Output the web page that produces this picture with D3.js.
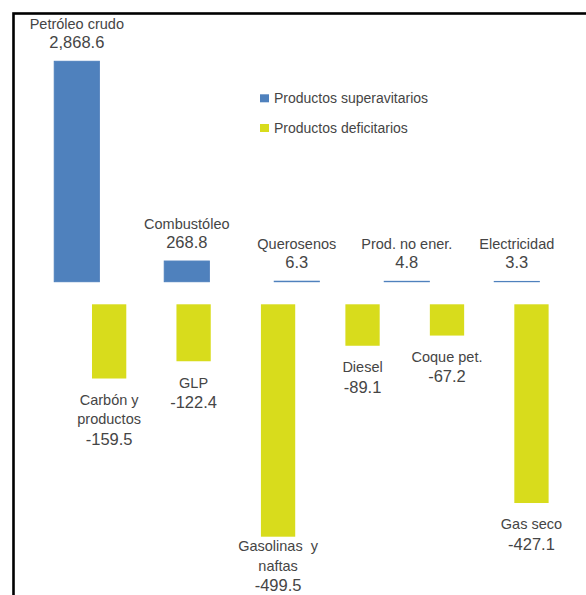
<!DOCTYPE html>
<html>
<head>
<meta charset="utf-8">
<script src="https://cdn.jsdelivr.net/npm/d3@7"></script>
<style>
  html, body { margin: 0; padding: 0; background: #fff; }
  svg { display: block; }
  text { font-family: "Liberation Sans", Arial, sans-serif; fill: #454545; }
</style>
</head>
<body>
<svg id="chart" width="586" height="595"></svg>
<script>
// Surplus products (exports exceed imports)
const surplusNames = [
  ["Petróleo crudo"], ["Combustóleo"], ["Querosenos"], ["Prod. no ener."], ["Electricidad"]
];
const surplusValues = [2868.6, 268.8, 6.3, 4.8, 3.3];

// Deficit products (imports exceed exports)
const deficitNames = [
  ["Carbón y", "productos"], ["GLP"], ["Gasolinas  y", "naftas"], ["Diesel"], ["Coque pet."], ["Gas seco"]
];
const deficitValues = [-159.5, -122.4, -499.5, -89.1, -67.2, -427.1];

const legendLabels = ["Productos superavitarios", "Productos deficitarios"];
const colors = ["#4f81bd", "#d8dc1c"];

// Number format with a plain hyphen for negatives
const locale = d3.formatLocale({ decimal: ".", thousands: ",", grouping: [3], currency: ["", ""], minus: "-" });
const fmt = locale.format(",.1f");
const svg = d3.select("#chart");

// Frame
svg.append("rect")
  .attr("x", 13.5).attr("y", 13.5)
  .attr("width", 620).attr("height", 620)
  .attr("fill", "none").attr("stroke", "#000").attr("stroke-width", 2.6);

// Scales: the two groups use their own band layout and value scale
const xPos = d3.scaleBand()
  .domain(d3.range(surplusValues.length))
  .range([21.8, 571.8])
  .paddingInner(0.59).paddingOuter(0.295);

const yPos = d3.scaleLinear()
  .domain([0, d3.max(surplusValues)])
  .range([281.7, 61.3]);

const xNeg = d3.scaleBand()
  .domain(d3.range(deficitValues.length))
  .range([66.9, 573.7])
  .paddingInner(0.594).paddingOuter(0.297);

const yNeg = d3.scaleLinear()
  .domain([0, d3.min(deficitValues)])
  .range([304.3, 536.7]);

const nameSize = 14.5, valueSize = 16.5;

// Surplus bars
const pos = svg.append("g");
pos.selectAll("rect")
  .data(surplusValues)
  .join("rect")
  .attr("x", (d, i) => xPos(i))
  .attr("y", d => yPos(d))
  .attr("width", xPos.bandwidth())
  .attr("height", d => yPos(0) - yPos(d))
  .attr("fill", colors[0])
  .attr("stroke", colors[0])
  .attr("stroke-width", 1);

const posLabels = pos.selectAll("g.lbl")
  .data(surplusValues)
  .join("g").attr("class", "lbl");
posLabels.append("text")
  .attr("x", (d, i) => xPos(i) + xPos.bandwidth() / 2)
  .attr("y", d => yPos(d) - 32)
  .attr("text-anchor", "middle")
  .style("font-size", nameSize + "px")
  .text((d, i) => surplusNames[i][0]);
posLabels.append("text")
  .attr("x", (d, i) => xPos(i) + xPos.bandwidth() / 2)
  .attr("y", d => yPos(d) - 13)
  .attr("text-anchor", "middle")
  .style("font-size", valueSize + "px")
  .text(d => fmt(d));

// Deficit bars
const neg = svg.append("g");
neg.selectAll("rect")
  .data(deficitValues)
  .join("rect")
  .attr("x", (d, i) => xNeg(i))
  .attr("y", yNeg(0))
  .attr("width", xNeg.bandwidth())
  .attr("height", d => yNeg(d) - yNeg(0))
  .attr("fill", colors[1]);

// Labels under each deficit bar, kept inside the plot's lower edge
const lineGap = 19.5, valueGap = 20.5, lastBaseline = 591;
deficitValues.forEach((d, i) => {
  const lines = deficitNames[i];
  const cx = xNeg(i) + xNeg.bandwidth() / 2;
  const blockH = (lines.length - 1) * lineGap + valueGap;
  const first = Math.min(yNeg(d) + 26.3, lastBaseline - blockH);
  const g = neg.append("g");
  lines.forEach((t, k) => {
    g.append("text")
      .attr("x", cx).attr("y", first + k * lineGap)
      .attr("text-anchor", "middle")
      .style("font-size", nameSize + "px")
      .style("white-space", "pre")
      .attr("xml:space", "preserve")
      .text(t);
  });
  g.append("text")
    .attr("x", cx).attr("y", first + blockH)
    .attr("text-anchor", "middle")
    .style("font-size", valueSize + "px")
    .text(fmt(d));
});

// Legend
const legend = svg.append("g").attr("transform", "translate(260,94.3)");
legendLabels.forEach((t, i) => {
  const row = legend.append("g").attr("transform", `translate(0,${i * 29.7})`);
  row.append("rect").attr("width", 9).attr("height", 8).attr("fill", colors[i]);
  row.append("text")
    .attr("x", 14).attr("y", 4)
    .attr("dy", "0.35em")
    .style("font-size", "14px")
    .text(t);
});
</script>
</body>
</html>
